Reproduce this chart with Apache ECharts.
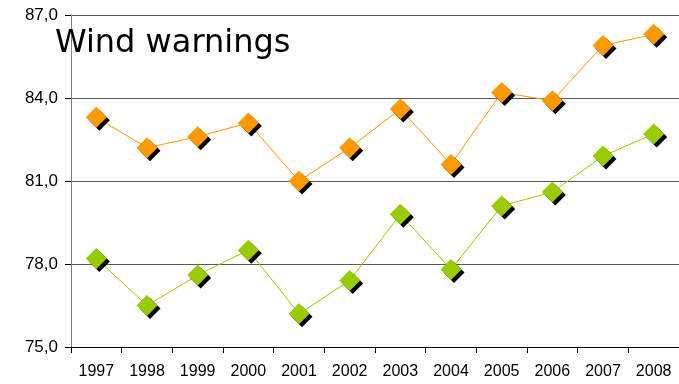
<!DOCTYPE html>
<html>
<head>
<meta charset="utf-8">
<script src="https://cdn.jsdelivr.net/npm/echarts@6/dist/echarts.min.js"></script>
<style>
  html, body { margin: 0; padding: 0; background: #fff; }
  #chart { width: 679px; height: 384px; }
</style>
</head>
<body>
<div id="chart"></div>
<script>
// Years on the category axis
const years = ['1997', '1998', '1999', '2000', '2001', '2002', '2003', '2004', '2005', '2006', '2007', '2008'];
// Upper (orange) series
const seriesA = [83.3, 82.2, 82.6, 83.1, 81.0, 82.2, 83.6, 81.6, 84.2, 83.9, 85.9, 86.3];
// Lower (green) series
const seriesB = [78.2, 76.5, 77.6, 78.5, 76.2, 77.4, 79.8, 77.8, 80.1, 80.6, 81.9, 82.7];
// Value axis range
const yMin = 75, yMax = 87, yStep = 3;

const chart = echarts.init(document.getElementById('chart'), null, { renderer: 'canvas' });

function makeSeries(data, color) {
  return {
    type: 'line',
    data: data,
    symbol: 'diamond',
    symbolSize: 21,
    lineStyle: { color: color, width: 1 },
    itemStyle: {
      color: color,
      shadowColor: '#000',
      shadowBlur: 0,
      shadowOffsetX: 3,
      shadowOffsetY: 3
    },
    emphasis: { disabled: true },
    animation: false
  };
}

chart.setOption({
  backgroundColor: '#fff',
  animation: false,
  title: {
    text: 'Wind warnings',
    left: 50,
    top: 23,
    textStyle: {
      fontFamily: 'DejaVu Sans',
      fontSize: 32,
      fontWeight: 'normal',
      color: '#000'
    }
  },
  grid: { left: 71, right: 0, top: 15, bottom: 37, containLabel: false },
  xAxis: {
    type: 'category',
    data: years,
    boundaryGap: true,
    axisLine: { show: true, lineStyle: { color: '#000', width: 1 } },
    axisTick: { show: true, alignWithLabel: false, length: 6, lineStyle: { color: '#000' } },
    axisLabel: {
      margin: 17,
      fontFamily: 'Liberation Sans',
      fontSize: 16,
      color: '#000'
    },
    splitLine: { show: false }
  },
  yAxis: {
    type: 'value',
    min: yMin,
    max: yMax,
    interval: yStep,
    axisLine: { show: true, lineStyle: { color: '#808080', width: 1 } },
    axisTick: { show: true, length: 6, lineStyle: { color: '#000' } },
    axisLabel: {
      margin: 13,
      fontFamily: 'Liberation Sans',
      fontSize: 17,
      color: '#000',
      formatter: v => v.toFixed(1).replace('.', ',')
    },
    splitLine: { show: true, lineStyle: { color: '#5a5a5a', width: 1 } }
  },
  series: [makeSeries(seriesA, '#ff9900'), makeSeries(seriesB, '#99cc00')]
});
</script>
</body>
</html>
